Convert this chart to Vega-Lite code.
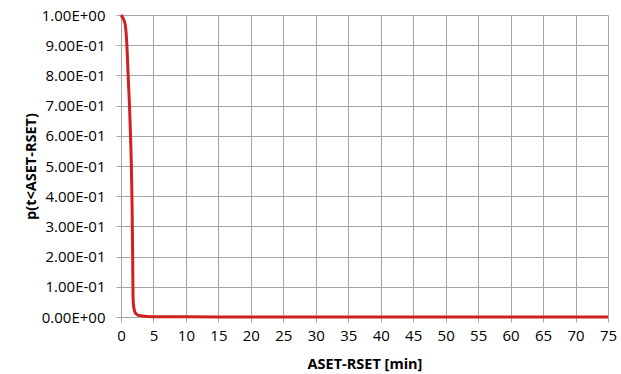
{
  "$schema": "https://vega.github.io/schema/vega-lite/v6.json",
  "autosize": "none",
  "width": 487,
  "height": 302,
  "padding": {"left": 121, "top": 15, "right": 13, "bottom": 57},
  "background": "white",
  "config": {
    "view": {"stroke": null},
    "font": "Open Sans",
    "axis": {
      "labelFont": "Open Sans",
      "titleFont": "Open Sans",
      "labelFontSize": 15,
      "titleFontSize": 14.5,
      "titleFontWeight": "bold",
      "labelColor": "#000000",
      "titleColor": "#000000",
      "gridColor": "#a6a6a6",
      "gridWidth": 1,
      "domainColor": "#a6a6a6",
      "tickColor": "#a6a6a6",
      "tickSize": 5
    }
  },
  "data": {
    "values": [
      {"t": 0, "p": 1.0},
      {"t": 0.3, "p": 0.99},
      {"t": 0.66, "p": 0.967},
      {"t": 0.88, "p": 0.91},
      {"t": 1.1, "p": 0.8},
      {"t": 1.39, "p": 0.65},
      {"t": 1.69, "p": 0.39},
      {"t": 1.8, "p": 0.2},
      {"t": 1.85, "p": 0.07},
      {"t": 1.95, "p": 0.035},
      {"t": 2.2, "p": 0.014},
      {"t": 2.8, "p": 0.005},
      {"t": 4, "p": 0.002},
      {"t": 6, "p": 0.001},
      {"t": 10, "p": 0.0005},
      {"t": 20, "p": 0.0003},
      {"t": 30, "p": 0.0002},
      {"t": 40, "p": 0.0001},
      {"t": 50, "p": 0.0001},
      {"t": 60, "p": 0.0},
      {"t": 75, "p": 0.0}
    ]
  },
  "mark": {"type": "line", "color": "#d0201f", "strokeWidth": 3, "interpolate": "monotone"},
  "encoding": {
    "x": {
      "field": "t",
      "type": "quantitative",
      "scale": {"domain": [0, 75], "nice": false},
      "axis": {"values": [0,5,10,15,20,25,30,35,40,45,50,55,60,65,70,75], "title": "ASET-RSET [min]", "labelPadding": 6, "titlePadding": 14, "labelFlush": false}
    },
    "y": {
      "field": "p",
      "type": "quantitative",
      "scale": {"domain": [0, 1], "nice": false},
      "axis": {
        "values": [0,0.1,0.2,0.3,0.4,0.5,0.6,0.7,0.8,0.9,1],
        "title": "p(t<ASET-RSET)",
        "labelPadding": 11,
        "titlePadding": 3,
        "labelFlush": false,
        "labelExpr": "datum.value >= 0.999 ? '1.00E+00' : (datum.value <= 0.001 ? '0.00E+00' : format(datum.value * 10, '.2f') + 'E-01')"
      }
    }
  }
}
